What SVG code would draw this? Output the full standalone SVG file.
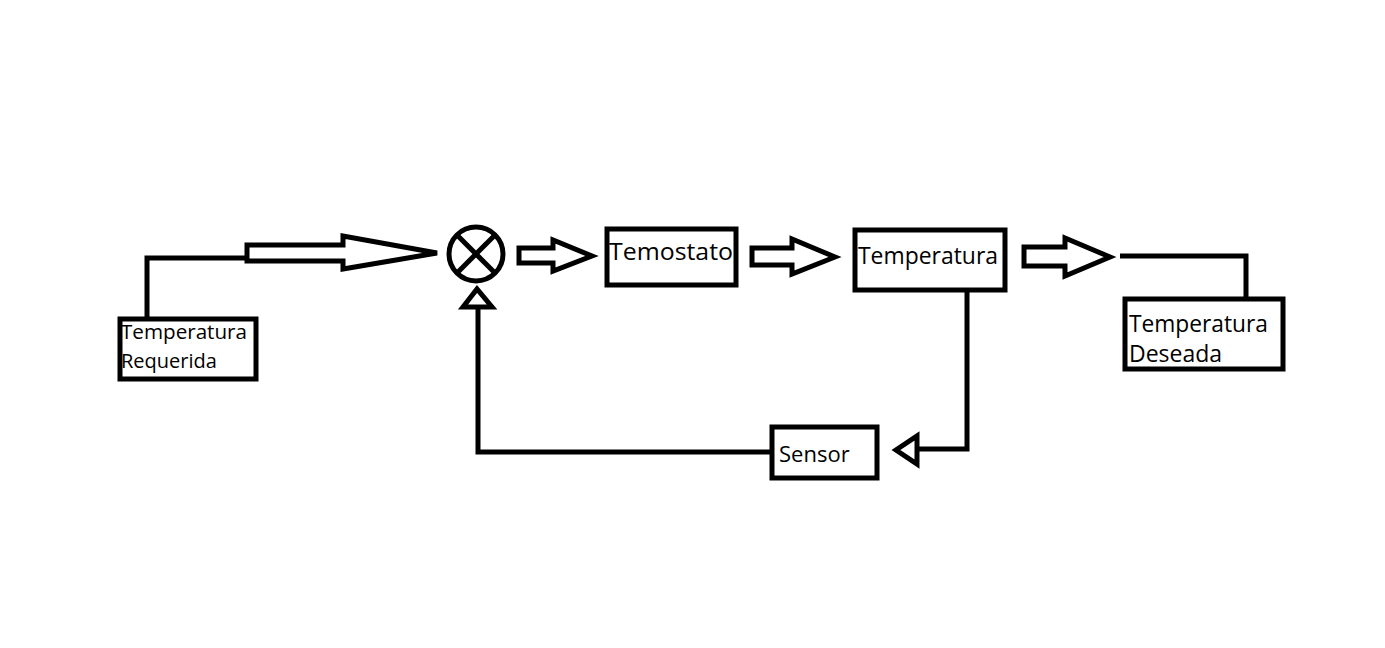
<svg xmlns="http://www.w3.org/2000/svg" width="1385" height="648" viewBox="0 0 1385 648">
<style>
.b{fill:#fff;stroke:#000;stroke-width:5}
.l{fill:none;stroke:#000;stroke-width:5;stroke-linejoin:miter}
.a{fill:#fff;stroke:#000;stroke-width:5;stroke-linejoin:miter}
text{font-family:"Open Sans","Noto Sans","Liberation Sans",sans-serif;fill:#000}
</style>
<rect width="1385" height="648" fill="#fff"/>
<g id="connectors">
<polyline class="l" points="147,319 147,258 247,258"/>
<polygon class="a" points="247,245 343,245 343,236 437,253 343,269 343,261 247,261"/>
<polygon class="a" points="519,248 553,248 553,240 592,256 553,271 553,263 519,263"/>
<polygon class="a" points="752,248 792,248 792,239 835,257 792,274 792,265 752,265"/>
<polygon class="a" points="1024,247 1065,247 1065,238 1110,257 1065,276 1065,266 1024,266"/>
<polyline class="l" points="1120,256 1246,256 1246,299"/>
<polyline class="l" points="967,290 967,449 917,449"/>
<polygon class="a" points="917,436 917,464 896,450"/>
<polyline class="l" points="772,452 478,452 478,307"/>
<polygon class="a" points="463,307 492,307 477,289"/>
</g>
<g id="sum">
<circle class="b" cx="476" cy="254" r="27"/>
<line class="l" x1="457" y1="235" x2="495" y2="273"/>
<line class="l" x1="495" y1="235" x2="457" y2="273"/>
</g>
<g id="req">
<rect class="b" x="120" y="319" width="136" height="60"/>
<text x="121" y="339" font-size="20" textLength="126" lengthAdjust="spacingAndGlyphs">Temperatura</text>
<text x="121" y="368" font-size="20">Requerida</text>
</g>
<g id="termostato">
<rect class="b" x="607" y="229" width="129" height="56"/>
<text x="609" y="260" font-size="24" textLength="124" lengthAdjust="spacingAndGlyphs">Temostato</text>
</g>
<g id="temperatura">
<rect class="b" x="855" y="230" width="150" height="60"/>
<text x="858" y="264" font-size="23" textLength="140" lengthAdjust="spacingAndGlyphs">Temperatura</text>
</g>
<g id="deseada">
<rect class="b" x="1125" y="299" width="158" height="70"/>
<text x="1129" y="332" font-size="23" textLength="139" lengthAdjust="spacingAndGlyphs">Temperatura</text>
<text x="1129" y="362" font-size="23">Deseada</text>
</g>
<g id="sensor">
<rect class="b" x="772" y="427" width="105" height="51"/>
<text x="779" y="462" font-size="22">Sensor</text>
</g>
</svg>
